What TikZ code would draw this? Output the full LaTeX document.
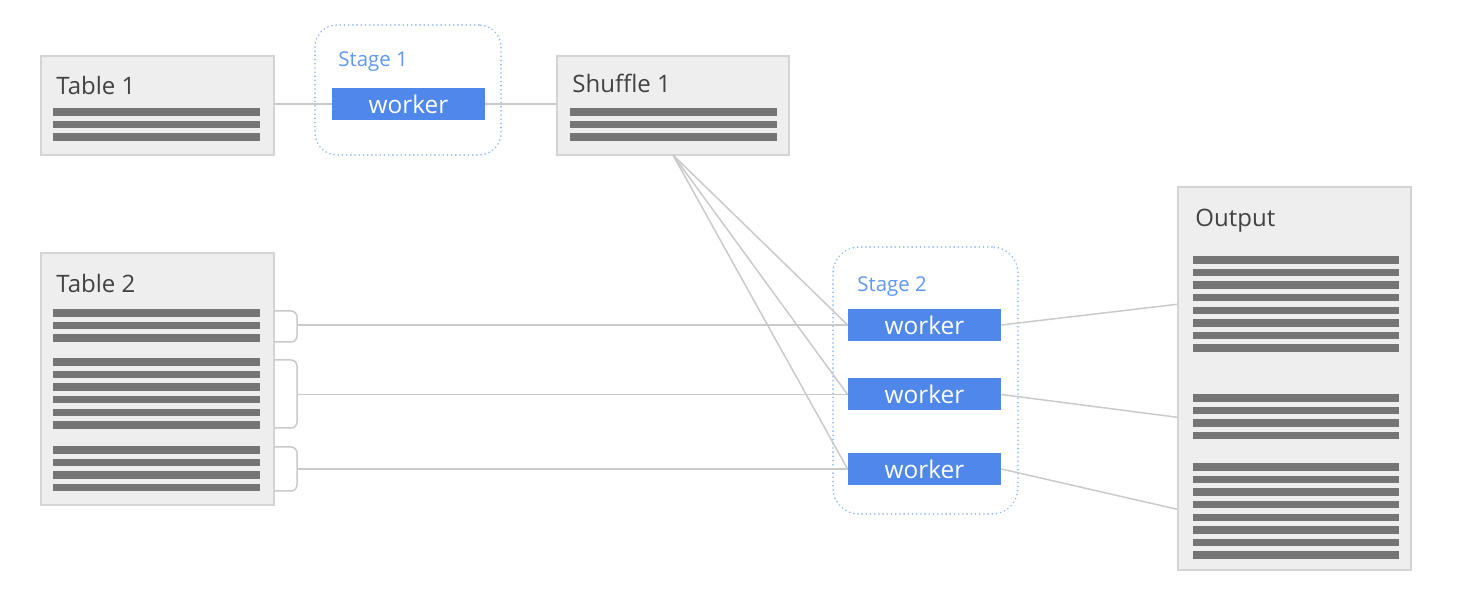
\documentclass[tikz,border=0pt]{standalone}
\usepackage{fontspec}
\setmainfont{Open Sans}
\usetikzlibrary{fit,calc}
\definecolor{boxfill}{HTML}{EEEEEE}
\definecolor{boxline}{HTML}{D4D4D4}
\definecolor{barcol}{HTML}{757575}
\definecolor{wblue}{HTML}{4F87EB}
\definecolor{stageblue}{HTML}{5E97F6}
\definecolor{dotblue}{HTML}{8AB4F8}
\definecolor{conncol}{HTML}{CACACA}
\definecolor{titlecol}{HTML}{424242}
\tikzset{
  tbox/.style={draw=boxline, fill=boxfill, line width=0.7pt, inner sep=0pt},
  stagebox/.style={draw=dotblue, line width=0.8pt, dash pattern=on 0.1pt off 2pt, line cap=round, rounded corners=11pt, inner sep=0pt},
  worker/.style={fill=wblue, text=white, minimum width=76.5pt, minimum height=16pt, inner sep=0pt, font=\fontsize{12.2}{13}\selectfont},
  title/.style={anchor=base west, inner sep=0pt, text=titlecol, font=\fontsize{12}{14}\selectfont},
  stagelbl/.style={anchor=base west, inner sep=0pt, text=stageblue, font=\fontsize{10.2}{12}\selectfont},
  bar/.style={fill=barcol},
  conn/.style={draw=conncol, line width=0.75pt},
}
\begin{document}
\begin{tikzpicture}[x=0.5pt,y=-0.5pt]
\useasboundingbox (0,0) rectangle (1474,614);

% boxes
\node[tbox, fit={(41,56)(274,155)}] (t1) {};
\node[tbox, fit={(557,56)(789,155)}] (sh) {};
\node[tbox, fit={(41,253)(274,505)}] (t2) {};
\node[tbox, fit={(1178,187)(1411,570)}] (out) {};

\node[title] (t1l) at (56,95) {Table 1};
\node[title] (shl) at (572,93) {Shuffle 1};
\node[title] (t2l) at (56,293) {Table 2};
\node[title] (outl) at (1195,227) {Output};

% bars
\foreach \y in {112,124.6,137.2} {
  \fill[bar] (53,\y-3.7) rectangle (260,\y+3.7);
  \fill[bar] (570,\y-3.7) rectangle (777,\y+3.7);
}
\foreach \y in {313,325.6,338.2, 362,374.6,387.2,399.8,412.4,425, 450,462.6,475.2,487.8} {
  \fill[bar] (53,\y-3.7) rectangle (260,\y+3.7);
}
\foreach \i in {0,...,7} {
  \fill[bar] (1193,260+12.6*\i-3.7) rectangle (1399,260+12.6*\i+3.7);
  \fill[bar] (1193,467+12.6*\i-3.7) rectangle (1399,467+12.6*\i+3.7);
}
\foreach \i in {0,...,3} {
  \fill[bar] (1193,398+12.6*\i-3.7) rectangle (1399,398+12.6*\i+3.7);
}

% stages
\node[stagebox, fit={(315,25)(501,155)}] (s1) {};
\node[stagelbl] (s1l) at (338,67) {Stage 1};
\node[worker] (w1) at (408.5,104) {worker};

\node[stagebox, rounded corners=13pt, fit={(833,247)(1018,514)}] (s2) {};
\node[stagelbl] (s2l) at (857,292) {Stage 2};
\node[worker] (w2a) at (924.5,325) {worker};
\node[worker] (w2b) at (924.5,394.5) {worker};
\node[worker] (w2c) at (924.5,469) {worker};

% connectors stage 1
\draw[conn] (t1.east |- w1.west) -- (w1.west);
\draw[conn] (w1.east) -- (w1.east -| sh.west);

% fan from shuffle
\coordinate (shout) at (673,155);
\draw[conn] (shout) -- (w2a.west);
\draw[conn] (shout) -- (w2b.west);
\draw[conn] (shout) -- (w2c.west);

% brackets from table 2
\coordinate (br1) at (297,325);
\coordinate (br2) at (297,394.5);
\coordinate (br3) at (297,469);
\draw[conn, rounded corners=3pt] (t2.east |- 0,311) -- (297,311) -- (297,342) -- (t2.east |- 0,342);
\draw[conn, rounded corners=3pt] (t2.east |- 0,360) -- (297,360) -- (297,428) -- (t2.east |- 0,428);
\draw[conn, rounded corners=3pt] (t2.east |- 0,447) -- (297,447) -- (297,491) -- (t2.east |- 0,491);
\draw[conn] (br1) -- (w2a.west);
\draw[conn] (br2) -- (w2b.west);
\draw[conn] (br3) -- (w2c.west);

% to output
\draw[conn] (w2a.east) -- ($(out.north west)+(0,118)$);
\draw[conn] (w2b.east) -- ($(out.north west)+(0,231)$);
\draw[conn] (w2c.east) -- ($(out.north west)+(0,323)$);
\end{tikzpicture}
\end{document}
